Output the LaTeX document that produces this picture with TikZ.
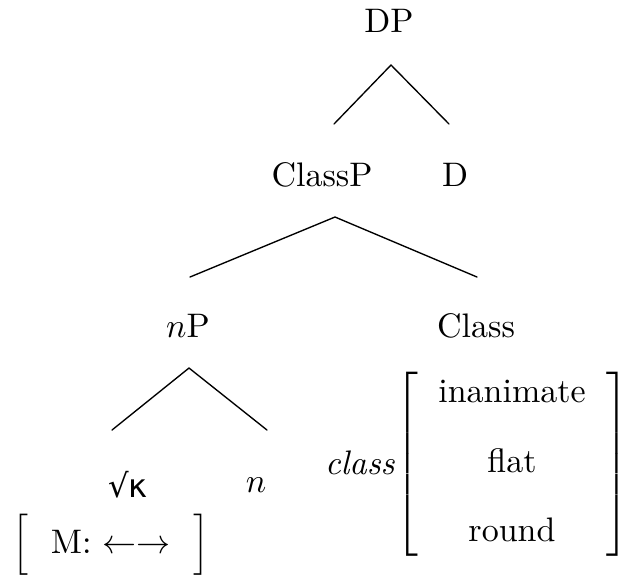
\documentclass[tikz,border=0pt]{standalone}
\usepackage{amsmath}
\usepackage{fontspec}
\newfontfamily\rootfont{DejaVu Sans}
\usetikzlibrary{positioning}
\tikzset{
    tree/.style={
        x=0.294pt, y=-0.294pt,
        cat/.style={inner sep=1pt, text=black},
        branch/.style={thin, black, line cap=round},
    }
}

\begin{document}
\begin{tikzpicture}[tree]
    \useasboundingbox (0,0) rectangle (627,583);

    % Categories
    \node[cat] (dp) at (389,21) {DP};
    \node[cat] (classp) at (322,175) {ClassP};
    \node[cat] (d) at (455,175) {D};
    \node[cat] (np) at (188,326) {$n$P};
    \node[cat] (class) at (476,326) {Class};
    \node[cat] (root) at (128,485) {\rootfont\fontsize{9.5}{11}\selectfont √κ};
    \node[cat] (nhead) at (256,485) {$n$};

    % Features
    \node[cat] (classlbl) at (360,463) {\textit{class}};
    \node[cat] (classavm) at (512,464) {%
        $\left[\rule[-25.5pt]{0pt}{56pt}\begin{array}{@{\hspace{6pt}}c@{\hspace{6pt}}}
            \text{inanimate}\\[8.5pt] \text{flat}\\[8.5pt] \text{round}
        \end{array}\right]$};
    \node[cat] (mavm) at (111,545) {$\Big[$\hspace{6.5pt}M: $\leftarrow\rightarrow$\hspace{6.5pt}$\Big]$};

    % Branch points
    \coordinate (dp-apex) at (391,65);
    \coordinate (dp-l) at (334,124);
    \coordinate (dp-r) at (449,124);
    \coordinate (classp-apex) at (335,217);
    \coordinate (classp-l) at (190,277);
    \coordinate (classp-r) at (477,277);
    \coordinate (np-apex) at (189,368);
    \coordinate (np-l) at (112,430);
    \coordinate (np-r) at (267,430);

    % Branches
    \draw[branch] (dp-l) -- (dp-apex) -- (dp-r);
    \draw[branch] (classp-l) -- (classp-apex) -- (classp-r);
    \draw[branch] (np-l) -- (np-apex) -- (np-r);
\end{tikzpicture}
\end{document}
